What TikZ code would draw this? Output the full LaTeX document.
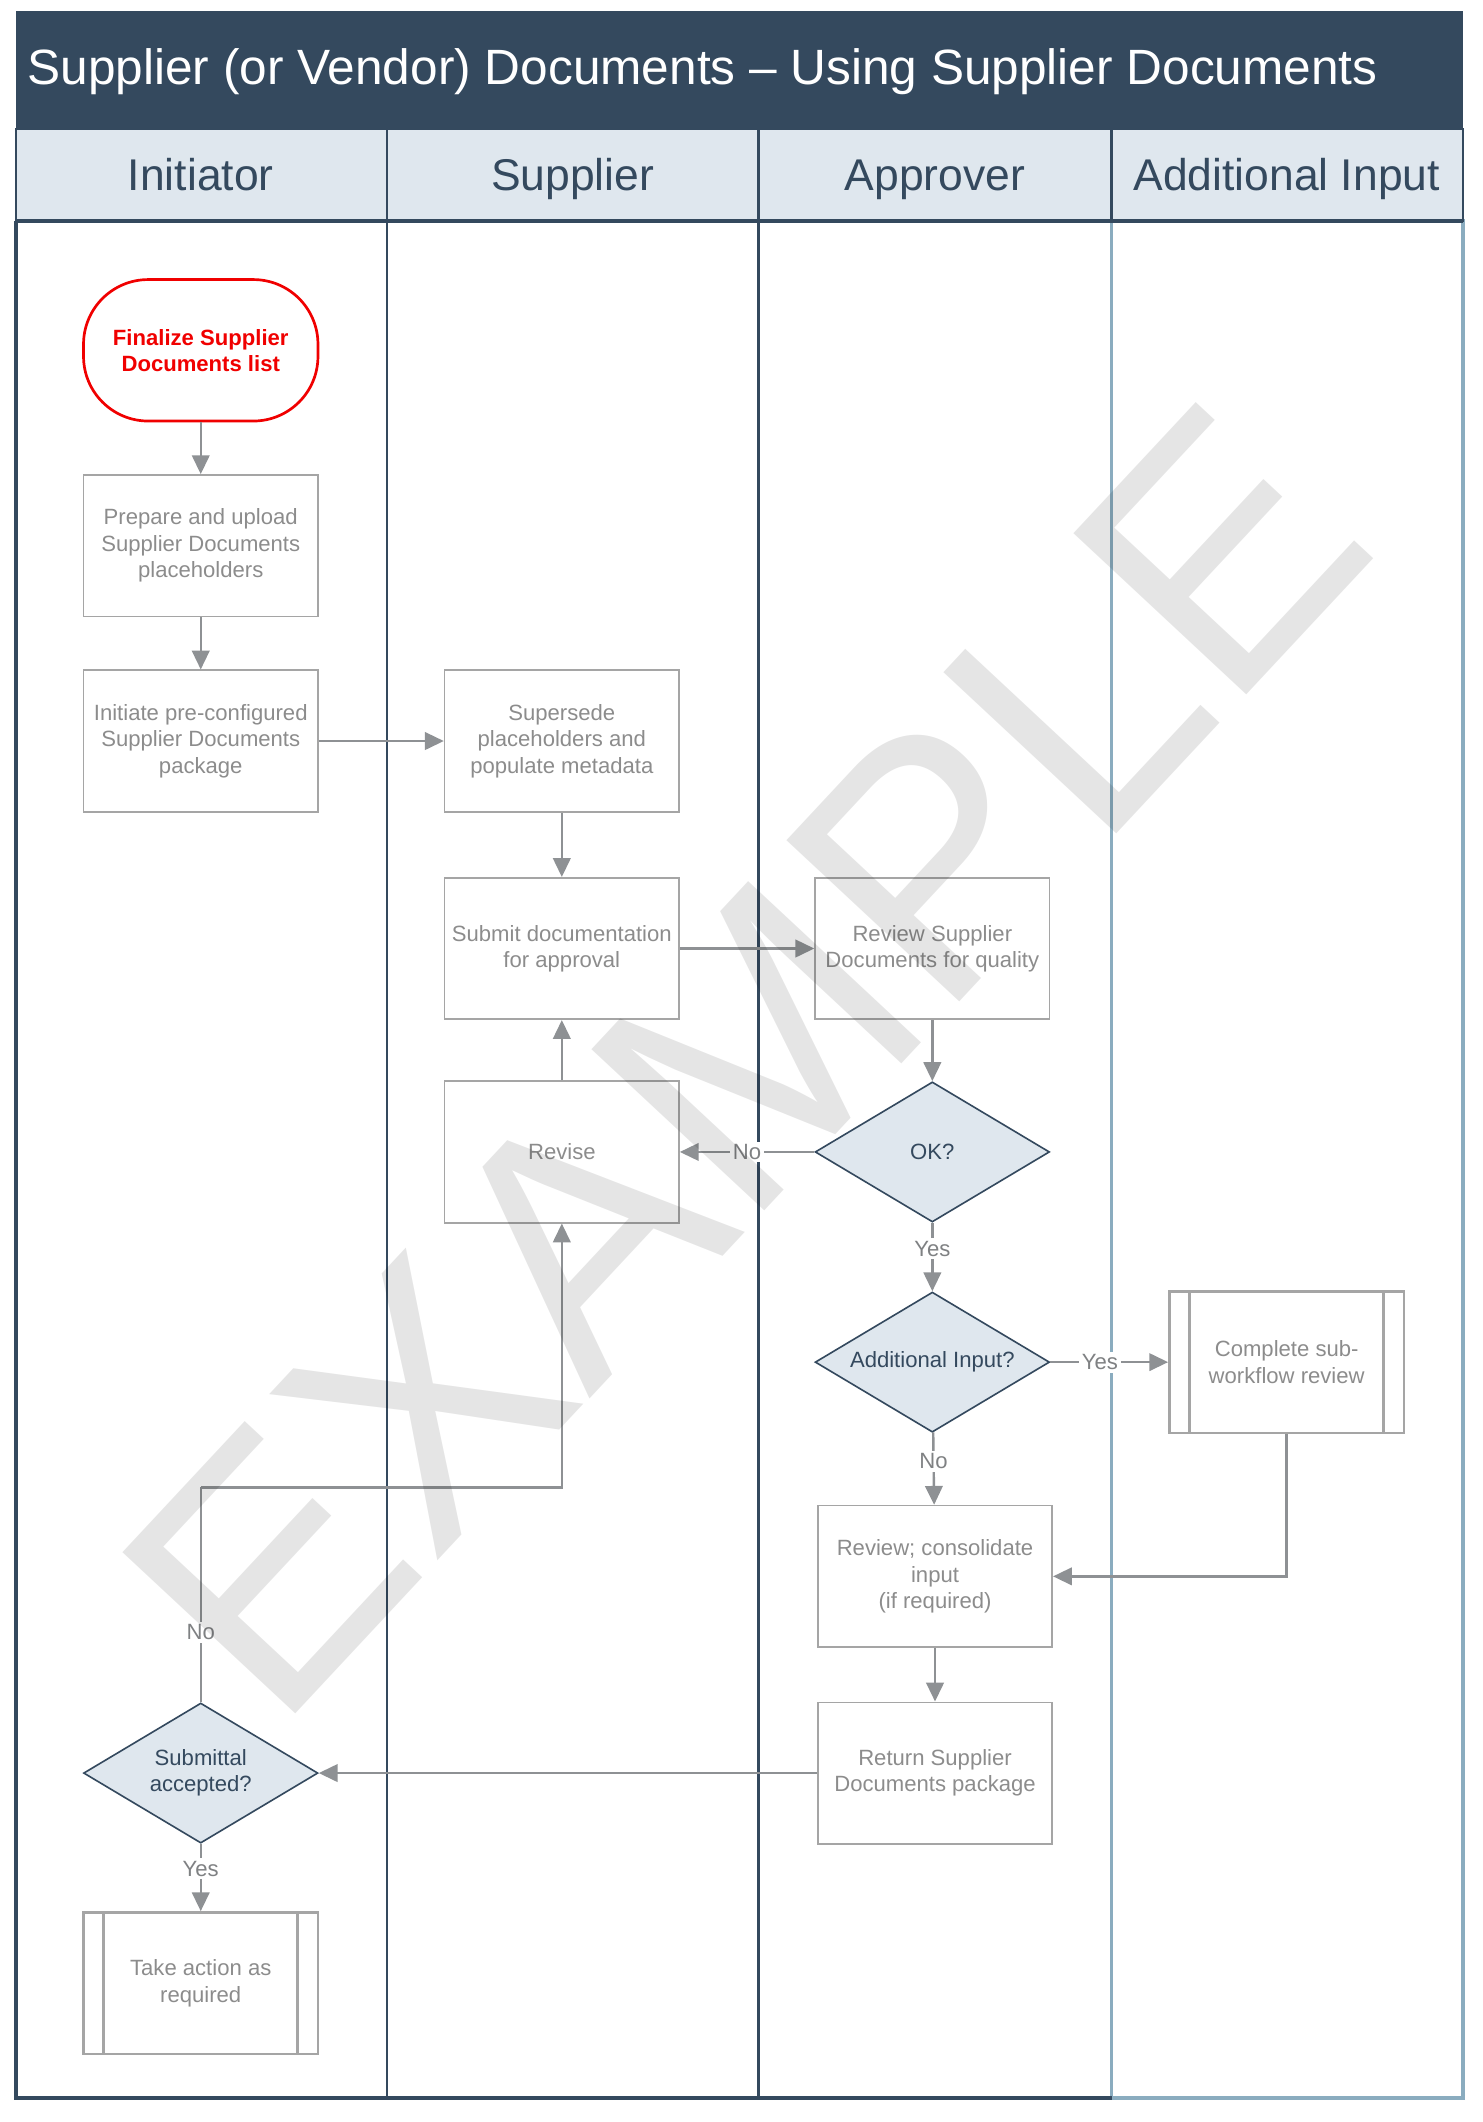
\documentclass[tikz,border=0pt]{standalone}
\usepackage{fontspec}
\setmainfont{Liberation Sans}
\usetikzlibrary{shapes.geometric,arrows.meta,calc}
\definecolor{dkblue}{HTML}{34495E}
\definecolor{hdrfill}{HTML}{DFE7EE}
\definecolor{ltblue}{HTML}{8AACBF}
\definecolor{boxgray}{HTML}{A5A5A5}
\definecolor{txtgray}{HTML}{8C8C8C}
\definecolor{lblgray}{HTML}{7F8183}
\definecolor{arrgray}{HTML}{8E9194}
\definecolor{startred}{HTML}{F00000}
\newcommand\mynodefont{\fontsize{8.2}{9.8}\selectfont}
\begin{document}
\begin{tikzpicture}[x=0.5pt,y=-0.5pt,
  proc/.style={rectangle,draw=boxgray,line width=0.6pt,minimum width=87pt,minimum height=52.5pt,inner sep=1pt,text=txtgray,align=center,font=\mynodefont},
  predef/.style={proc,line width=1pt},
  startbox/.style={rectangle,draw=startred,line width=1pt,rounded corners=24pt,minimum width=87pt,minimum height=52.5pt,inner sep=1pt,text=startred,align=center,font=\bfseries\mynodefont},
  decision/.style={diamond,draw=dkblue,line width=0.6pt,fill=hdrfill,minimum width=87pt,minimum height=52pt,aspect=1.67,inner sep=0pt,text=dkblue,align=center,font=\mynodefont},
  arr/.style={draw=arrgray,line width=0.9pt,-{Triangle[length=7pt,width=6.5pt]}},
  plain/.style={draw=arrgray,line width=0.9pt},
  lbl/.style={fill=white,inner sep=1pt,text=lblgray,font=\mynodefont},
  hdr/.style={anchor=base,text=dkblue,font=\fontsize{16.5}{18}\selectfont,inner sep=0pt},
  hdrcell/.style={fill=hdrfill,draw=dkblue,line width=0.8pt},
  lane/.style={draw=dkblue,line width=0.8pt}]
\useasboundingbox (0,0) rectangle (1100,1575);
% title
\fill[dkblue] (12,8) rectangle (1086,96);
\node[anchor=base west,text=white,font=\fontsize{18.4}{20}\selectfont,inner sep=0pt] (title) at (20,63) {Supplier (or Vendor) Documents – Using Supplier Documents};
% lanes
\draw[lane] (12,164) rectangle (287,1557);
\draw[lane] (287,164) rectangle (563,1557);
\draw[lane] (563,164) rectangle (825,1557);
\draw[ltblue,line width=1.3pt] (825,164) rectangle (1086,1557);
\draw[dkblue,line width=1.3pt] (12,164) -- (12,1557) -- (825,1557);
% headers
\draw[hdrcell] (12,96) rectangle (287,164);
\draw[hdrcell] (287,96) rectangle (563,164);
\draw[hdrcell] (563,96) rectangle (825,164);
\draw[hdrcell] (825,96) rectangle (1086,164);
\draw[dkblue,line width=1.5pt] (12,164) -- (1086,164);
\node[hdr] (h1) at (149,141.5) {Initiator};
\node[hdr] (h2) at (425,141.5) {Supplier};
\node[hdr] (h3) at (694,141.5) {Approver};
\node[hdr] (h4) at (955,141.5) {Additional Input};
% nodes
\node[startbox] (st) at (149,260) {Finalize Supplier\\Documents list};
\node[proc] (prep) at (149,405) {Prepare and upload\\Supplier Documents\\placeholders};
\node[proc] (ini) at (149,550) {Initiate pre-configured\\Supplier Documents\\package};
\node[proc] (sup) at (417,550) {Supersede\\placeholders and\\populate metadata};
\node[proc] (sbm) at (417,704) {Submit documentation\\for approval};
\node[proc] (rvs) at (692,704) {Review Supplier\\Documents for quality};
\node[proc] (rev) at (417,855) {Revise};
\node[decision] (ok) at (692,855) {OK?};
\node[decision] (add) at (692,1011) {Additional Input?};
\node[predef] (cmp) at (955,1011) {Complete sub-\\workflow review};
\draw[boxgray,line width=1pt] ([xshift=8pt]cmp.north west) -- ([xshift=8pt]cmp.south west);
\draw[boxgray,line width=1pt] ([xshift=-8pt]cmp.north east) -- ([xshift=-8pt]cmp.south east);
\node[proc] (rc) at (694,1170) {Review; consolidate\\input\\(if required)};
\node[proc] (ret) at (694,1316) {Return Supplier\\Documents package};
\node[decision] (sub) at (149,1316) {Submittal\\accepted?};
\node[predef] (take) at (149,1472) {Take action as\\required};
\draw[boxgray,line width=1pt] ([xshift=8pt]take.north west) -- ([xshift=8pt]take.south west);
\draw[boxgray,line width=1pt] ([xshift=-8pt]take.north east) -- ([xshift=-8pt]take.south east);
% connectors
\draw[arr] (st) -- (prep);
\draw[arr] (prep) -- (ini);
\draw[arr] (ini) -- (sup);
\draw[arr] (sup) -- (sbm);
\draw[arr] (sbm) -- (rvs);
\draw[arr] (rvs) -- (ok);
\draw[arr] (ok) -- node[lbl,pos=0.5] (lno1) {No} (rev);
\draw[arr] (rev) -- (sbm);
\draw[arr] (ok) -- node[lbl,pos=0.38] (lyes1) {Yes} (add);
\draw[arr] (add) -- node[lbl,pos=0.42] (lyes2) {Yes} (cmp);
\draw[arr] (add) -- node[lbl,pos=0.4] (lno2) {No} (rc);
\draw[arr] (cmp.south) |- (rc.east);
\draw[arr] (rc) -- (ret);
\draw[arr] (ret) -- (sub);
\coordinate (k1) at (149,1104);
\draw[plain] (sub.north) -- node[lbl,pos=0.325] (lno3) {No} (k1);
\draw[arr] (k1) -| (rev.south);
\draw[arr] (sub) -- node[lbl,pos=0.37] (lyes3) {Yes} (take);
% watermark
\node[rotate=47,text=black,text opacity=0.1,inner sep=0pt,font=\fontsize{127.5}{130}\selectfont] (wm) at (552,787) {EXAMPLE};
\end{tikzpicture}
\end{document}
